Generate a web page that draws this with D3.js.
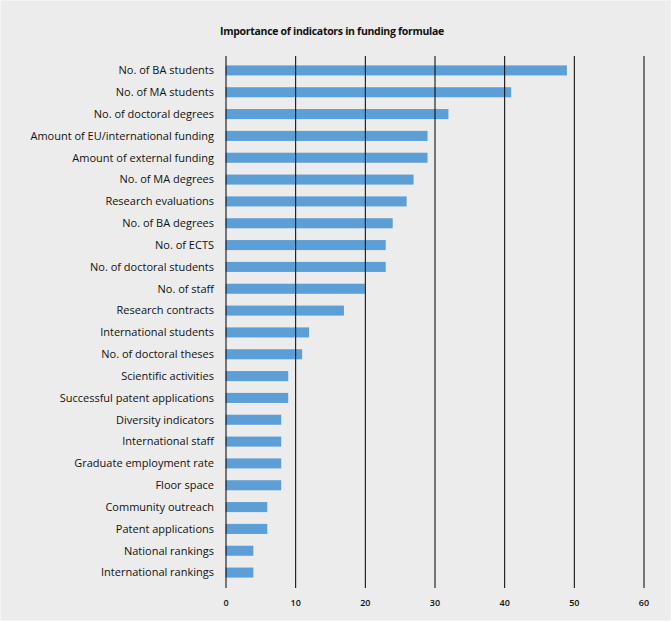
<!DOCTYPE html>
<html><head><meta charset="utf-8">
<script src="https://cdn.jsdelivr.net/npm/d3@7"></script>
<style>
html,body{margin:0;padding:0;background:#ececec;}
svg{display:block;}
</style></head><body>
<script>
const categories = ["No. of BA students","No. of MA students","No. of doctoral degrees","Amount of EU/international funding","Amount of external funding","No. of MA degrees","Research evaluations","No. of BA degrees","No. of ECTS","No. of doctoral students","No. of staff","Research contracts","International students","No. of doctoral theses","Scientific activities","Successful patent applications","Diversity indicators","International staff","Graduate employment rate","Floor space","Community outreach","Patent applications","National rankings","International rankings"];
const values = [49,41,32,29,29,27,26,24,23,23,20,17,12,11,9,9,8,8,8,8,6,6,4,4];
const xTicks = [0,10,20,30,40,50,60];
const title = "Importance of indicators in funding formulae";

const W = 671, H = 621;
const svg = d3.select("body").append("svg").attr("width", W).attr("height", H);
svg.append("rect").attr("x",0.5).attr("y",0.5).attr("width",W-1).attr("height",H-1)
  .attr("fill","#ececec").attr("stroke","#f4f4f4");

const x = d3.scaleLinear().domain([0,60]).range([225.5,643.5]);
const y = d3.scaleBand().domain(categories).range([59.5,583.5]).paddingInner(0.54).paddingOuter(0.27);

svg.append("text").attr("x",332).attr("y",35).attr("text-anchor","middle")
  .attr("font-family","Open Sans").attr("font-weight","bold").attr("font-size",10.5)
  .attr("letter-spacing","-0.3").attr("fill","#111").text(title);

// bars
svg.append("g").selectAll("rect").data(values).join("rect")
  .attr("x", x(0)).attr("y",(d,i)=>y(categories[i]))
  .attr("width", d=>x(d)-x(0)).attr("height", y.bandwidth())
  .attr("fill","#5b9fd6");

// gridlines
const ax = d3.axisBottom(x).tickValues(xTicks).tickSize(-(588-56)).tickSizeOuter(0).tickPadding(12);
const g = svg.append("g").attr("transform","translate(0,588)").call(ax);
g.select(".domain").remove();
g.selectAll(".tick line").attr("stroke","#000").attr("stroke-width",1);
g.selectAll(".tick text").attr("font-family","Open Sans").attr("font-size",9).attr("font-weight","600").attr("fill","#111");

// category labels
svg.append("g").selectAll("text").data(categories).join("text")
  .attr("x",214).attr("y",d=>y(d)+y.bandwidth()/2).attr("dy","0.35em")
  .attr("text-anchor","end").attr("font-family","Open Sans").attr("font-size",11)
  .attr("fill","#111").text(d=>d);
</script>
</body></html>
